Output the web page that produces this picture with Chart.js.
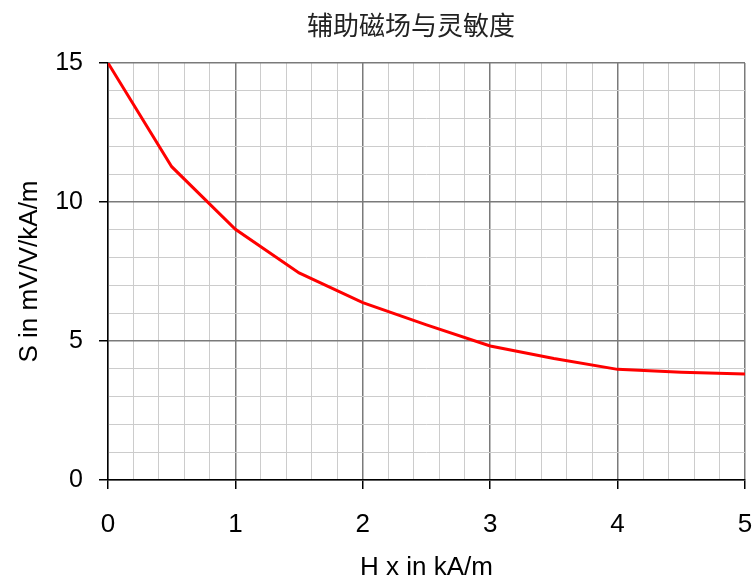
<!DOCTYPE html>
<html>
<head>
<meta charset="utf-8">
<script src="https://cdn.jsdelivr.net/npm/chart.js@4.4.0/dist/chart.umd.min.js"></script>
<style>
html,body{margin:0;padding:0;background:#fff;}
#wrap{width:756px;height:581px;position:relative;}
</style>
</head>
<body>
<div id="wrap"><canvas id="c" width="756" height="581"></canvas></div>
<script>
const chartTitle = "辅助磁场与灵敏度";
const xAxisTitle = "H x in kA/m";
const yAxisTitle = "S in mV/V/kA/m";
const hValues = [0, 0.5, 1, 1.5, 2, 2.5, 3, 3.5, 4, 4.5, 5];
const sValues = [15, 11.27, 9.02, 7.45, 6.38, 5.58, 4.82, 4.37, 3.98, 3.88, 3.81];
const xMin = 0, xMax = 5, xMinorStep = 0.2;
const yMin = 0, yMax = 15, yMinorStep = 1, yMajorStep = 5;

const points = hValues.map((h, i) => ({x: h, y: sValues[i]}));

const isInt = v => Math.abs(v - Math.round(v)) < 1e-6;
const isYMajor = v => Math.abs(v / yMajorStep - Math.round(v / yMajorStep)) < 1e-6;

const titlePlugin = {
  id: 'customTitle',
  afterDraw(chart) {
    const ctx = chart.ctx;
    ctx.save();
    ctx.font = '26px "Noto Sans CJK SC", sans-serif';
    ctx.fillStyle = '#222';
    ctx.textAlign = 'center';
    ctx.textBaseline = 'middle';
    ctx.fillText(chartTitle, 411, 25);
    ctx.restore();
  }
};

new Chart(document.getElementById('c'), {
  type: 'line',
  data: {
    datasets: [{
      data: points,
      borderColor: '#ff0000',
      borderWidth: 3,
      pointRadius: 0,
      tension: 0,
      fill: false
    }]
  },
  options: {
    responsive: false,
    animation: false,
    layout: {padding: {top: 63, right: 11, left: 0, bottom: 0}},
    plugins: {legend: {display: false}, title: {display: false}, tooltip: {enabled: false}},
    scales: {
      x: {
        type: 'linear',
        min: xMin, max: xMax,
        afterBuildTicks(scale) {
          const t = [];
          for (let v = xMin; v <= xMax + 1e-9; v += xMinorStep) t.push({value: Math.round(v * 1000) / 1000});
          scale.ticks = t;
        },
        afterFit(scale) { scale.height = 101; scale.paddingRight = 0; scale.paddingLeft = 0; },
        ticks: {
          autoSkip: false,
          maxRotation: 0,
          padding: 20,
          color: '#000',
          font: {family: '"Liberation Sans", Arial, sans-serif', size: 26},
          callback: v => isInt(v) ? String(Math.round(v)) : ''
        },
        grid: {
          color: c => (c.tick && isInt(c.tick.value)) ? '#7a7a7a' : '#cccccc',
          lineWidth: c => (c.tick && isInt(c.tick.value)) ? 1.5 : 1,
          tickColor: c => (c.tick && isInt(c.tick.value)) ? '#000' : 'rgba(0,0,0,0)',
          tickLength: 9
        },
        border: {display: true, color: '#000', width: 1.5},
        title: {
          display: true,
          text: xAxisTitle,
          color: '#000',
          font: {family: '"Liberation Sans", Arial, sans-serif', size: 26, lineHeight: 1.0},
          padding: {top: 0, bottom: 0}
        }
      },
      y: {
        type: 'linear',
        min: yMin, max: yMax,
        afterBuildTicks(scale) {
          const t = [];
          for (let v = yMin; v <= yMax + 1e-9; v += yMinorStep) t.push({value: v});
          scale.ticks = t;
        },
        afterFit(scale) { scale.width = 108; },
        ticks: {
          autoSkip: false,
          padding: 16,
          color: '#000',
          font: {family: '"Liberation Sans", Arial, sans-serif', size: 25},
          callback: v => isYMajor(v) ? String(v) : ''
        },
        grid: {
          color: c => (c.tick && isYMajor(c.tick.value)) ? '#7a7a7a' : '#cccccc',
          lineWidth: c => (c.tick && isYMajor(c.tick.value)) ? 1.5 : 1,
          tickColor: c => (c.tick && isYMajor(c.tick.value)) ? '#000' : 'rgba(0,0,0,0)',
          tickLength: 9
        },
        border: {display: true, color: '#000', width: 1.5},
        title: {
          display: true,
          text: yAxisTitle,
          color: '#000',
          font: {family: '"Liberation Sans", Arial, sans-serif', size: 26},
          padding: {top: 14, bottom: 0}
        }
      }
    }
  },
  plugins: [titlePlugin]
});
</script>
</body>
</html>
